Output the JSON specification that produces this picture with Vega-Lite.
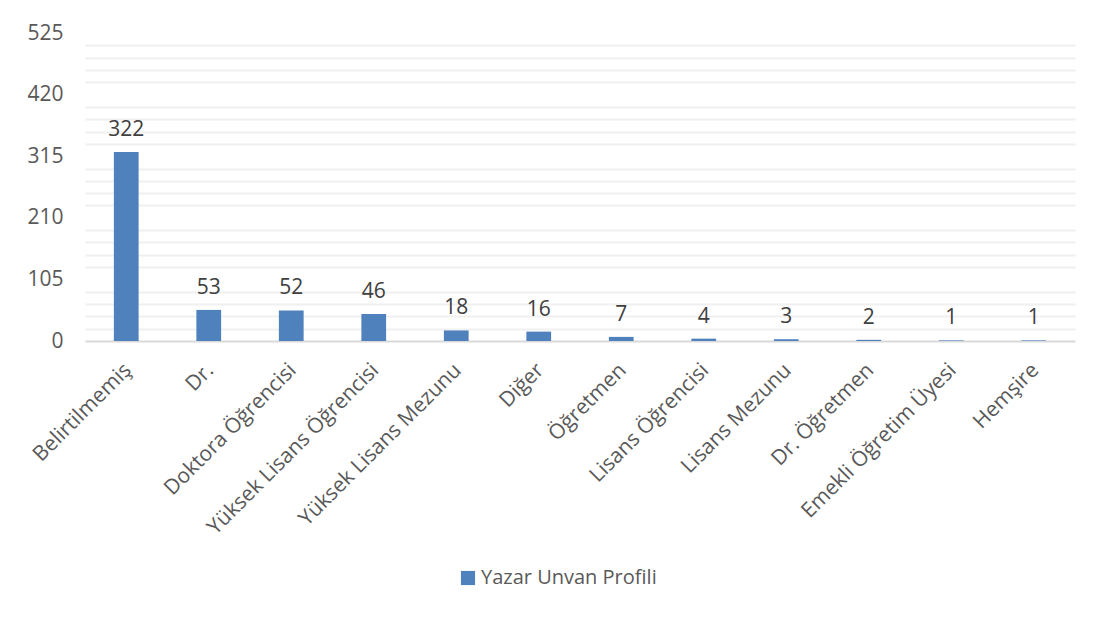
{
  "$schema": "https://vega.github.io/schema/vega-lite/v6.json",
  "autosize": {"type": "none"},
  "width": 990,
  "height": 308,
  "padding": {"left": 85, "top": 33, "right": 26, "bottom": 276},
  "background": "white",
  "config": {
    "view": {"stroke": null},
    "font": "Open Sans",
    "text": {"font": "Open Sans"}
  },
  "data": {
    "values": [
      {"unvan": "Belirtilmemiş", "sayi": 322, "seri": "Yazar Unvan Profili"},
      {"unvan": "Dr.", "sayi": 53, "seri": "Yazar Unvan Profili"},
      {"unvan": "Doktora Öğrencisi", "sayi": 52, "seri": "Yazar Unvan Profili"},
      {"unvan": "Yüksek Lisans Öğrencisi", "sayi": 46, "seri": "Yazar Unvan Profili"},
      {"unvan": "Yüksek Lisans Mezunu", "sayi": 18, "seri": "Yazar Unvan Profili"},
      {"unvan": "Diğer", "sayi": 16, "seri": "Yazar Unvan Profili"},
      {"unvan": "Öğretmen", "sayi": 7, "seri": "Yazar Unvan Profili"},
      {"unvan": "Lisans Öğrencisi", "sayi": 4, "seri": "Yazar Unvan Profili"},
      {"unvan": "Lisans Mezunu", "sayi": 3, "seri": "Yazar Unvan Profili"},
      {"unvan": "Dr. Öğretmen", "sayi": 2, "seri": "Yazar Unvan Profili"},
      {"unvan": "Emekli Öğretim Üyesi", "sayi": 1, "seri": "Yazar Unvan Profili"},
      {"unvan": "Hemşire", "sayi": 1, "seri": "Yazar Unvan Profili"}
    ]
  },
  "encoding": {
    "x": {
      "field": "unvan",
      "type": "nominal",
      "sort": null,
      "scale": {"paddingInner": 0.7, "paddingOuter": 0.35},
      "axis": {
        "title": null,
        "labelAngle": -45,
        "labelFontSize": 21,
        "labelColor": "#595959",
        "labelFont": "Open Sans",
        "labelPadding": 18,
        "labelOffset": -6,
        "ticks": false,
        "domainColor": "#D9D9D9",
        "domainWidth": 2,
        "labelLimit": 400
      }
    },
    "y": {
      "field": "sayi",
      "type": "quantitative",
      "scale": {"domain": [0, 525], "nice": false},
      "axis": {
        "title": null,
        "values": [0, 21, 42, 63, 84, 105, 126, 147, 168, 189, 210, 231, 252, 273, 294, 315, 336, 357, 378, 399, 420, 441, 462, 483, 504, 525],
        "labelExpr": "datum.value % 105 === 0 ? datum.label : ''",
        "labelFontSize": 21,
        "labelColor": "#595959",
        "labelFont": "Open Sans",
        "labelPadding": 22,
        "ticks": false,
        "domain": false,
        "grid": true,
        "gridColor": "#F0F0F0",
        "gridWidth": 2,
        "gridOpacity": {"condition": {"test": "datum.value % 105 === 0", "value": 0}, "value": 1}
      }
    }
  },
  "layer": [
    {
      "mark": {"type": "bar", "color": "#4F81BD"},
      "encoding": {
        "color": {
          "field": "seri",
          "type": "nominal",
          "scale": {"range": ["#4F81BD"]},
          "legend": {
            "title": null,
            "orient": "none",
            "legendX": 373,
            "legendY": 535,
            "symbolType": "square",
            "symbolSize": 200,
            "symbolStrokeWidth": 0,
            "labelFontSize": 20,
            "labelColor": "#595959",
            "labelFont": "Open Sans",
            "labelOffset": 3,
            "labelLimit": 400
          }
        }
      }
    },
    {
      "mark": {"type": "text", "baseline": "alphabetic", "dy": -16, "fontSize": 21, "color": "#404040", "font": "Open Sans"},
      "encoding": {"text": {"field": "sayi", "type": "quantitative"}}
    }
  ]
}
